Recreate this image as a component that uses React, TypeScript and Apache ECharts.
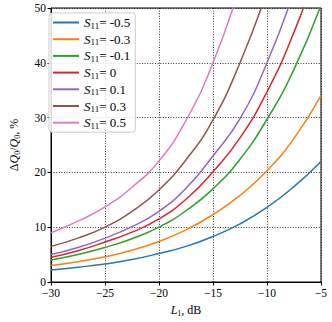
import React, { useEffect, useRef } from "react";
import * as echarts from "echarts";

const L1 = [-30, -27.5, -25, -22.5, -20, -17.5, -15, -12.5, -10, -7.5, -5];
const S11 = ["-0.5", "-0.3", "-0.1", "0", "0.1", "0.3", "0.5"];
const sM05 = [2.2, 2.7, 3.3, 4.1, 5.2, 6.5, 8.3, 10.6, 13.6, 17.4, 22.0];
const sM03 = [3.0, 3.7, 4.6, 5.8, 7.4, 9.5, 12.3, 15.8, 20.3, 26.2, 34.0];
const sM01 = [4.0, 5.0, 6.3, 7.9, 10.0, 13.0, 17.0, 22.4, 29.7, 38.8, 50.5];
const s0 = [4.5, 5.7, 7.3, 9.1, 11.5, 15.1, 20.1, 26.3, 34.7, 45.6, 59];
const sP01 = [5.0, 6.3, 8.0, 10.1, 12.9, 17.1, 23.0, 29.8, 40.0, 53, null];
const sP03 = [6.5, 8.0, 10.0, 12.9, 16.8, 22.3, 29.6, 40.0, 53, null, null];
const sP05 = [9.0, 11.1, 13.7, 17.3, 22.1, 29.5, 40.0, 54, null, null, null];
const seriesValues = [sM05, sM03, sM01, s0, sP01, sP03, sP05];
const colors = ["#1f77b4", "#ff7f0e", "#2ca02c", "#d62728", "#9467bd", "#8c564b", "#e377c2"];
const xTicks = [-30, -25, -20, -15, -10, -5];
const yTicks = [0, 10, 20, 30, 40, 50];

const FONT = "Liberation Serif";

export default function App() {
  const ref = useRef<HTMLDivElement>(null);
  useEffect(() => {
    if (!ref.current) return;
    const chart = echarts.init(ref.current, null, { renderer: "svg" });
    const rich = {
      i: { fontFamily: FONT, fontStyle: "italic", fontSize: 12, color: "#000" },
      sub: { fontFamily: FONT, fontSize: 8, color: "#000", padding: [6, 0, 0, 0] },
      t: { fontFamily: FONT, fontSize: 12, color: "#000" },
    };
    const legRich = {
      i: { fontFamily: FONT, fontStyle: "italic", fontSize: 13, color: "#000" },
      sub: { fontFamily: FONT, fontSize: 9, color: "#000", padding: [6, 0, 0, 0] },
      t: { fontFamily: FONT, fontSize: 13, color: "#000" },
    };
    chart.setOption({
      animation: false,
      color: colors,
      grid: {
        left: 43,
        right: 11,
        top: 8,
        bottom: 38,
        show: true,
        borderColor: "#000",
        borderWidth: 1,
        backgroundColor: "transparent",
      },
      legend: {
        orient: "vertical",
        left: 49,
        top: 13,
        padding: [2, 5, 2, 4],
        itemWidth: 26,
        itemHeight: 10,
        itemGap: 1.7,
        backgroundColor: "rgba(255,255,255,0.85)",
        borderColor: "#ccc",
        borderWidth: 1,
        borderRadius: 3,
        icon: "path://M0,0 L26,0 L26,2 L0,2 Z",
        data: S11,
        formatter: (name: string) => `{i|S}{sub|11}{t|= ${name}}`,
        textStyle: { rich: legRich, fontFamily: FONT, fontSize: 13, color: "#000", lineHeight: 15 },
      },
      xAxis: {
        type: "value",
        min: -30,
        max: -5,
        interval: 5,
        name: "{i|L}{sub|1}{t|, dB}",
        nameLocation: "middle",
        nameGap: 21,
        nameTextStyle: { rich },
        axisLine: { show: true, onZero: false, lineStyle: { color: "#000", width: 1 } },
        axisTick: { show: true, inside: false, length: 3.5, lineStyle: { color: "#000" } },
        axisLabel: {
          margin: 5,
          fontFamily: FONT,
          fontSize: 11.5,
          color: "#000",
          formatter: (v: number) => (xTicks.includes(v) ? String(v).replace("-", "\u2212") : ""),
        },
        splitLine: { show: true, lineStyle: { color: "#000", type: [1, 1.6], width: 0.8 } },
      },
      yAxis: {
        type: "value",
        min: 0,
        max: 50,
        interval: 10,
        name: "\u0394{i|Q}{sub|0}{t|/}{i|Q}{sub|0}{t|, %}",
        nameLocation: "middle",
        nameGap: 30,
        nameTextStyle: { rich, fontFamily: FONT, fontSize: 12, color: "#000" },
        axisLine: { show: true, lineStyle: { color: "#000", width: 1 } },
        axisTick: { show: true, inside: false, length: 3.5, lineStyle: { color: "#000" } },
        axisLabel: {
          margin: 5,
          fontFamily: FONT,
          fontSize: 11.5,
          color: "#000",
          formatter: (v: number) => (yTicks.includes(v) ? String(v) : ""),
        },
        splitLine: { show: true, lineStyle: { color: "#000", type: [1, 1.6], width: 0.8 } },
      },
      series: S11.map((name, k) => ({
        name,
        type: "line",
        smooth: 0.5,
        symbol: "none",
        clip: true,
        connectNulls: false,
        lineStyle: { width: 1.5, color: colors[k] },
        itemStyle: { color: colors[k] },
        data: L1.map((x, j) => [x, seriesValues[k][j]]).filter((p) => p[1] !== null),
      })),
    });
    return () => chart.dispose();
  }, []);
  return (
    <div
      ref={ref}
      style={{ position: "fixed", left: 0, top: 0, width: 332, height: 322, background: "#fff" }}
    />
  );
}
